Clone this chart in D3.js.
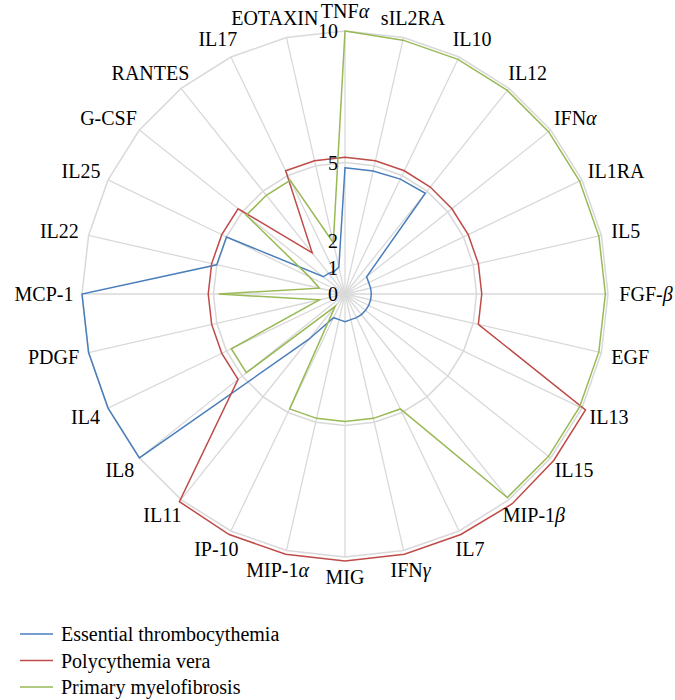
<!DOCTYPE html>
<html>
<head>
<meta charset="utf-8">
<script src="https://cdn.jsdelivr.net/npm/d3@7"></script>
</head>
<body style="margin:0">
<svg id="chart" width="675" height="700"></svg>
<script>
// cytokine axes, clockwise from the top
var categories = ["TNFα", "sIL2RA", "IL10", "IL12", "IFNα", "IL1RA", "IL5", "FGF-β", "EGF", "IL13",
    "IL15", "MIP-1β", "IL7", "IFNγ", "MIG", "MIP-1α", "IP-10", "IL11", "IL8", "IL4",
    "PDGF", "MCP-1", "IL22", "IL25", "G-CSF", "RANTES", "IL17", "EOTAXIN"];

var essentialThrombocythemia = [4.8, 4.8, 4.85, 4.9, 1.05, 1.0, 1.0, 1.0, 1.0, 1.0,
    1.0, 1.0, 1.0, 1.0, 1.05, 1.0, 1.0, 2.2, 10, 10,
    10, 10, 5.0, 5.0, 1.05, 1.0, 0.95, 1.05];
var polycythemiaVera = [5.2, 5.2, 5.2, 5.2, 5.2, 5.2, 5.2, 5.2, 5.2, 10.15,
    10.15, 10.2, 10.15, 10.15, 10.15, 10.15, 10.15, 10.1, 5.2, 5.2,
    5.2, 5.2, 5.2, 5.2, 5.2, 2.0, 5.2, 5.2];
var primaryMyelofibrosis = [10, 9.9, 9.9, 9.9, 9.9, 9.9, 9.9, 9.9, 9.9, 9.9,
    9.9, 9.9, 4.85, 4.85, 4.85, 4.85, 4.85, 0.6, 4.8, 4.8,
    1.0, 4.8, 1.0, 1.5, 4.8, 4.8, 4.8, 2.0];

var seriesNames = ["Essential thrombocythemia", "Polycythemia vera", "Primary myelofibrosis"];
var seriesColors = ["#4a7ebb", "#be4b48", "#98b954"];
var tickLabels = [0, 1, 2, 5, 10];
var gridRings = [5, 10];

var svg = d3.select("#chart");
var cx = 345, cy = 294, R = 263;
var n = categories.length;

var r = d3.scaleLinear().domain([0, 10]).range([0, R]);
var angle = d3.scaleLinear().domain([0, n]).range([0, 2 * Math.PI]);

function styleText(sel) {
    return sel.style("font-family", "'Liberation Serif'").style("font-size", "20px");
}

// rough width of a label, so no layout call is needed
function guessWidth(name) {
    var w = 0;
    for (var ch of name) {
        if (ch === "I" || ch === "-") w += 7;
        else if (/[A-Z]/.test(ch)) w += 13;
        else w += 10;
    }
    return w;
}

var g = svg.append("g").attr("transform", "translate(" + cx + "," + cy + ")");

// spokes
g.append("g").selectAll("line")
    .data(categories)
    .enter().append("line")
    .attr("x1", 0).attr("y1", 0)
    .attr("x2", function (d, i) { return r(10) * Math.sin(angle(i)); })
    .attr("y2", function (d, i) { return -r(10) * Math.cos(angle(i)); })
    .attr("stroke", "#d9d9d9")
    .attr("stroke-width", 1.3);

// rings (polygons)
var ringLine = d3.lineRadial()
    .angle(function (d, i) { return angle(i); })
    .radius(function (d) { return r(d); })
    .curve(d3.curveLinearClosed);

g.append("g").selectAll("path")
    .data(gridRings)
    .enter().append("path")
    .attr("d", function (v) { return ringLine(categories.map(function () { return v; })); })
    .attr("fill", "none")
    .attr("stroke", "#d9d9d9")
    .attr("stroke-width", 1.5);

// series
var allSeries = [essentialThrombocythemia, polycythemiaVera, primaryMyelofibrosis];
g.append("g").selectAll("path")
    .data(allSeries)
    .enter().append("path")
    .attr("d", function (d) { return ringLine(d); })
    .attr("fill", "none")
    .attr("stroke", function (d, i) { return seriesColors[i]; })
    .attr("stroke-width", 1.5)
    .attr("stroke-linejoin", "miter");

// value labels
g.append("g").selectAll("text")
    .data(tickLabels)
    .enter().append("text")
    .call(styleText)
    .attr("x", -7)
    .attr("y", function (v) { return -r(v); })
    .attr("dy", "0.35em")
    .attr("text-anchor", "end")
    .text(function (v) { return v; });

// write a name with the greek letters in italic
function writeName(sel, name) {
    name.split(/([αβγ])/).forEach(function (part) {
        if (part === "") return;
        var t = sel.append("tspan").text(part);
        if (/[αβγ]/.test(part)) t.style("font-style", "italic");
    });
}

// category labels
var labelR = R + 10;
categories.forEach(function (name, i) {
    var a = angle(i);
    var s = Math.sin(a), c = Math.cos(a);
    var px = labelR * s, py = -labelR * c;
    var w = guessWidth(name);
    var t = g.append("text").call(styleText)
        .attr("text-anchor", "middle")
        .attr("x", px + w * s / 2)
        .attr("y", py + 7 - 10 * c);
    writeName(t, name);
});

// legend
var legend = svg.append("g");
seriesNames.forEach(function (name, i) {
    var y = 634 + i * 26.5;
    legend.append("line")
        .attr("x1", 20).attr("x2", 53)
        .attr("y1", y).attr("y2", y)
        .attr("stroke", seriesColors[i])
        .attr("stroke-width", 1.5);
    legend.append("text")
        .call(styleText)
        .attr("x", 61)
        .attr("y", y + 7)
        .text(name);
});
</script>
</body>
</html>
